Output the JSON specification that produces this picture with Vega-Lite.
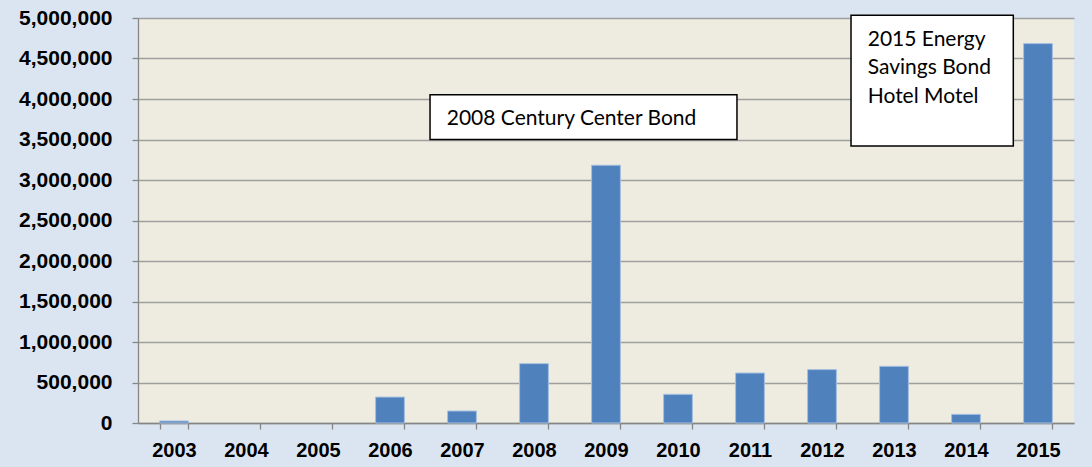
{
  "$schema": "https://vega.github.io/schema/vega-lite/v6.json",
  "width": 936,
  "height": 405,
  "autosize": {"type": "none"},
  "padding": {"left": 138, "top": 18, "right": 18, "bottom": 44},
  "background": "#dbe5f1",
  "config": {
    "numberFormat": ",.0f",
    "view": {"fill": "#eeece1", "stroke": null},
    "axis": {
      "labelFont": "Liberation Sans",
      "labelFontWeight": "bold",
      "labelFontSize": 20,
      "labelColor": "#000000",
      "domainColor": "#868686",
      "tickColor": "#868686",
      "tickSize": 6,
      "domainWidth": 1.3,
      "tickWidth": 1.3
    }
  },
  "layer": [
    {
      "data": {
        "values": [
          {"year": "2003", "amount": 25000},
          {"year": "2004", "amount": 0},
          {"year": "2005", "amount": 0},
          {"year": "2006", "amount": 320000},
          {"year": "2007", "amount": 148000},
          {"year": "2008", "amount": 733000},
          {"year": "2009", "amount": 3182000},
          {"year": "2010", "amount": 354000},
          {"year": "2011", "amount": 617000},
          {"year": "2012", "amount": 659000},
          {"year": "2013", "amount": 700000},
          {"year": "2014", "amount": 107000},
          {"year": "2015", "amount": 4684000}
        ]
      },
      "mark": {"type": "bar", "color": "#4f81bd", "stroke": "#a4bfe0", "strokeWidth": 1},
      "encoding": {
        "x": {
          "field": "year",
          "type": "ordinal",
          "scale": {"paddingInner": 0.6, "paddingOuter": 0.3},
          "axis": {"title": null, "labelAngle": 0, "tickBand": "extent", "labelPadding": 11}
        },
        "y": {
          "field": "amount",
          "type": "quantitative",
          "scale": {"domain": [0, 5000000], "nice": false},
          "axis": {
            "title": null,
            "values": [0, 500000, 1000000, 1500000, 2000000, 2500000, 3000000, 3500000, 4000000, 4500000, 5000000],
            "labelExpr": "format(datum.value, ',.0f')",
            "labelFontSize": 21,
            "grid": true,
            "gridColor": "#9f9f9f",
            "gridWidth": 1.3,
            "labelPadding": 20
          }
        },
        "strokeOpacity": {"condition": {"test": "datum.amount > 0", "value": 1}, "value": 0}
      }
    },
    {
      "data": {
        "values": [
          {"note": "2008 Century Center Bond", "bx1": 4.056, "bx2": 8.319, "by1": 3499000, "by2": 4054000, "tx": 4.288, "ty": 3675000},
          {"note": "2015 Energy\nSavings Bond\nHotel Motel", "bx1": 9.903, "bx2": 12.157, "by1": 3420000, "by2": 5033000, "tx": 10.135, "ty": 4654000}
        ]
      },
      "layer": [
        {
          "mark": {"type": "rect", "fill": "#ffffff", "stroke": "#000000", "strokeWidth": 1.5},
          "encoding": {
            "x": {"field": "bx1", "type": "quantitative", "scale": {"domain": [0, 13], "nice": false, "zero": false}, "axis": null},
            "x2": {"field": "bx2"},
            "y": {"field": "by1", "type": "quantitative"},
            "y2": {"field": "by2"}
          }
        },
        {
          "mark": {"type": "text", "align": "left", "baseline": "alphabetic", "font": "Lato", "fontSize": 21, "color": "#000000", "lineBreak": "\n", "lineHeight": 28.3},
          "encoding": {
            "x": {"field": "tx", "type": "quantitative", "scale": {"domain": [0, 13], "nice": false, "zero": false}, "axis": null},
            "y": {"field": "ty", "type": "quantitative"},
            "text": {"field": "note"}
          }
        }
      ]
    }
  ],
  "resolve": {"scale": {"x": "independent"}}
}
